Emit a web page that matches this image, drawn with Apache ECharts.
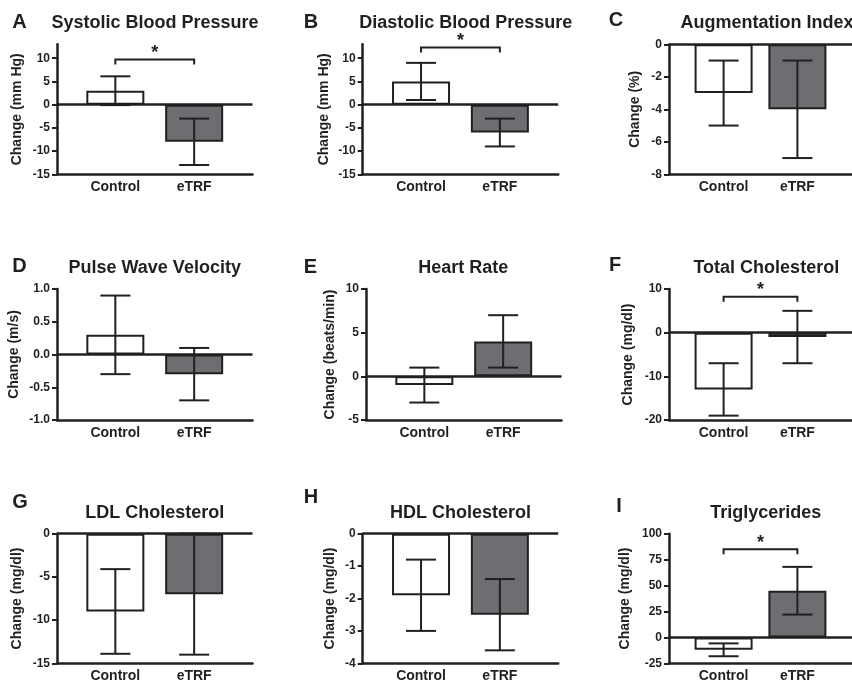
<!DOCTYPE html>
<html><head><meta charset="utf-8">
<script src="https://cdn.jsdelivr.net/npm/echarts@6/dist/echarts.min.js"></script>
<style>html,body{margin:0;padding:0;background:#fff}#c{width:852px;height:686px}</style>
</head><body><div id="c"></div>
<script>
// ---------- data ----------
const categories = ['Control', 'eTRF'];
const letters = ['A','B','C','D','E','F','G','H','I'];
const titles = ['Systolic Blood Pressure','Diastolic Blood Pressure','Augmentation Index',
  'Pulse Wave Velocity','Heart Rate','Total Cholesterol',
  'LDL Cholesterol','HDL Cholesterol','Triglycerides'];
const yNames = ['Change (mm Hg)','Change (mm Hg)','Change (%)','Change (m/s)','Change (beats/min)',
  'Change (mg/dl)','Change (mg/dl)','Change (mg/dl)','Change (mg/dl)'];
const controlMean = [3, 5, -3, 0.3, -1, -13, -9, -1.9, -12];
const controlErr  = [3.1, 4, 2, 0.6, 2, 6, 4.9, 1.1, 6.2];
const etrfMean    = [-8, -6, -4, -0.3, 4, -1, -7, -2.5, 45];
const etrfErr     = [5, 3, 3, 0.4, 3, 6, 7, 1.1, 23];
const yMin = [-15, -15, -8, -1, -5, -20, -15, -4, -25];
const yMax = [13, 13, 0, 1, 10, 10, 0, 0, 100];
const yTicks = [
  [-15,-10,-5,0,5,10], [-15,-10,-5,0,5,10], [-8,-6,-4,-2,0],
  [-1,-0.5,0,0.5,1], [-5,0,5,10], [-20,-10,0,10],
  [-15,-10,-5,0], [-4,-3,-2,-1,0], [-25,0,25,50,75,100]
];
const yDecimals = [0,0,0,1,0,0,0,0,0];
const sigBracket = [9.7, 12.3, null, null, null, 8.2, null, null, 85];

// ---------- layout / style ----------
const INK = '#231f20';
const GRAY = '#6d6e71';
const FONT = '"Liberation Sans", Arial, Helvetica, sans-serif';
const gridLeft = [57, 362.7, 669, 57, 366, 669, 57, 362.7, 669];
const rowTop = [44.3, 289, 533.7];
const rowH = [130, 131, 129.6];
const nameGaps = [33, 32, 27, 36, 29, 33.5, 33, 26, 37];
const titlePos = [[155,23],[465.8,23],[767,23],[154.7,268.3],[463.3,268.3],[766.3,268],[154.7,513.3],[460.5,513.3],[765.8,513]];
const letterPos = [[19.5,22.5],[311,22],[616,20.5],[19.5,266],[310.5,267.5],[615,265],[20,502.5],[311,497.5],[619,506]];

const grids = [], xAxes = [], yAxes = [], series = [], titleComps = [];
for (let i = 0; i < 9; i++) {
  const r = Math.floor(i / 3);
  grids.push({left: gridLeft[i], top: rowTop[r], width: 195.5, height: rowH[r], containLabel: false});
  xAxes.push({
    type: 'value', gridIndex: i, min: -0.74, max: 1.74,
    axisLine: {show: true, onZero: false, lineStyle: {color: INK, width: 2.5}},
    axisTick: {show: false}, splitLine: {show: false},
    axisLabel: {customValues: [0, 1], formatter: v => categories[Math.round(v)],
      color: INK, fontFamily: FONT, fontWeight: 'bold', fontSize: 14, margin: 6}
  });
  const dec = yDecimals[i];
  yAxes.push({
    type: 'value', gridIndex: i, min: yMin[i], max: yMax[i],
    axisLine: {show: true, onZero: false, lineStyle: {color: INK, width: 2.5}},
    axisTick: {show: true, length: 5, customValues: yTicks[i], lineStyle: {color: INK, width: 2}},
    splitLine: {show: false},
    axisLabel: {customValues: yTicks[i], formatter: v => Number(v).toFixed(dec),
      color: INK, fontFamily: FONT, fontWeight: 'bold', fontSize: 12, margin: 7},
    name: yNames[i], nameLocation: 'middle', nameGap: nameGaps[i],
    nameTextStyle: {color: INK, fontFamily: FONT, fontWeight: 'bold', fontSize: 14}
  });
  series.push({
    type: 'bar', xAxisIndex: i, yAxisIndex: i, barWidth: 58, silent: true,
    itemStyle: {borderColor: INK, borderWidth: 2},
    data: [
      {value: [0, controlMean[i]], itemStyle: {color: '#ffffff'}},
      {value: [1, etrfMean[i]], itemStyle: {color: GRAY}}
    ],
    markLine: {silent: true, symbol: ['none','none'], label: {show: false}, animation: false,
      lineStyle: {color: INK, width: 2.5, type: 'solid'}, emphasis: {disabled: true},
      data: [{yAxis: 0}]},
    z: 2
  });
  series.push({
    type: 'custom', xAxisIndex: i, yAxisIndex: i, silent: true, z: 5,
    encode: {x: 0, y: 1},
    data: [[0, controlMean[i], controlErr[i]], [1, etrfMean[i], etrfErr[i]]],
    renderItem: (params, api) => {
      const x = api.value(0), m = api.value(1), e = api.value(2);
      const t = api.coord([x, m + e]), b = api.coord([x, m - e]);
      const hw = 15, st = {stroke: INK, lineWidth: 2};
      return {type: 'group', children: [
        {type: 'line', shape: {x1: t[0], y1: t[1], x2: b[0], y2: b[1]}, style: st},
        {type: 'line', shape: {x1: t[0]-hw, y1: t[1], x2: t[0]+hw, y2: t[1]}, style: st},
        {type: 'line', shape: {x1: b[0]-hw, y1: b[1], x2: b[0]+hw, y2: b[1]}, style: st}
      ]};
    }
  });
  if (sigBracket[i] !== null) {
    series.push({
      type: 'custom', xAxisIndex: i, yAxisIndex: i, silent: true, z: 6, clip: false,
      encode: {x: 0, y: 1},
      data: [[0.5, sigBracket[i]]],
      renderItem: (params, api) => {
        const lv = api.value(1);
        const p0 = api.coord([0, lv]), p1 = api.coord([1, lv]);
        return {type: 'group', children: [
          {type: 'polyline', shape: {points: [[p0[0], p0[1]+5],[p0[0], p0[1]],[p1[0], p1[1]],[p1[0], p1[1]+5]]},
            style: {stroke: INK, lineWidth: 2, fill: null}},
          {type: 'text', x: (p0[0]+p1[0])/2, y: p0[1] - 6.5,
            style: {text: '*', fill: INK, font: 'bold 18px ' + FONT, textAlign: 'center', textVerticalAlign: 'middle'}}
        ]};
      }
    });
  }
  titleComps.push({text: titles[i], left: titlePos[i][0], top: titlePos[i][1], padding: 0,
    textAlign: 'center', textVerticalAlign: 'middle',
    textStyle: {color: INK, fontFamily: FONT, fontWeight: 'bold', fontSize: 18}});
  titleComps.push({text: letters[i], left: letterPos[i][0], top: letterPos[i][1], padding: 0,
    textAlign: 'center', textVerticalAlign: 'middle',
    textStyle: {color: INK, fontFamily: FONT, fontWeight: 'bold', fontSize: 20}});
}

const chart = echarts.init(document.getElementById('c'), null, {renderer: 'canvas'});
chart.setOption({
  animation: false,
  backgroundColor: '#ffffff',
  title: titleComps,
  grid: grids, xAxis: xAxes, yAxis: yAxes, series: series
});
</script>
</body></html>
